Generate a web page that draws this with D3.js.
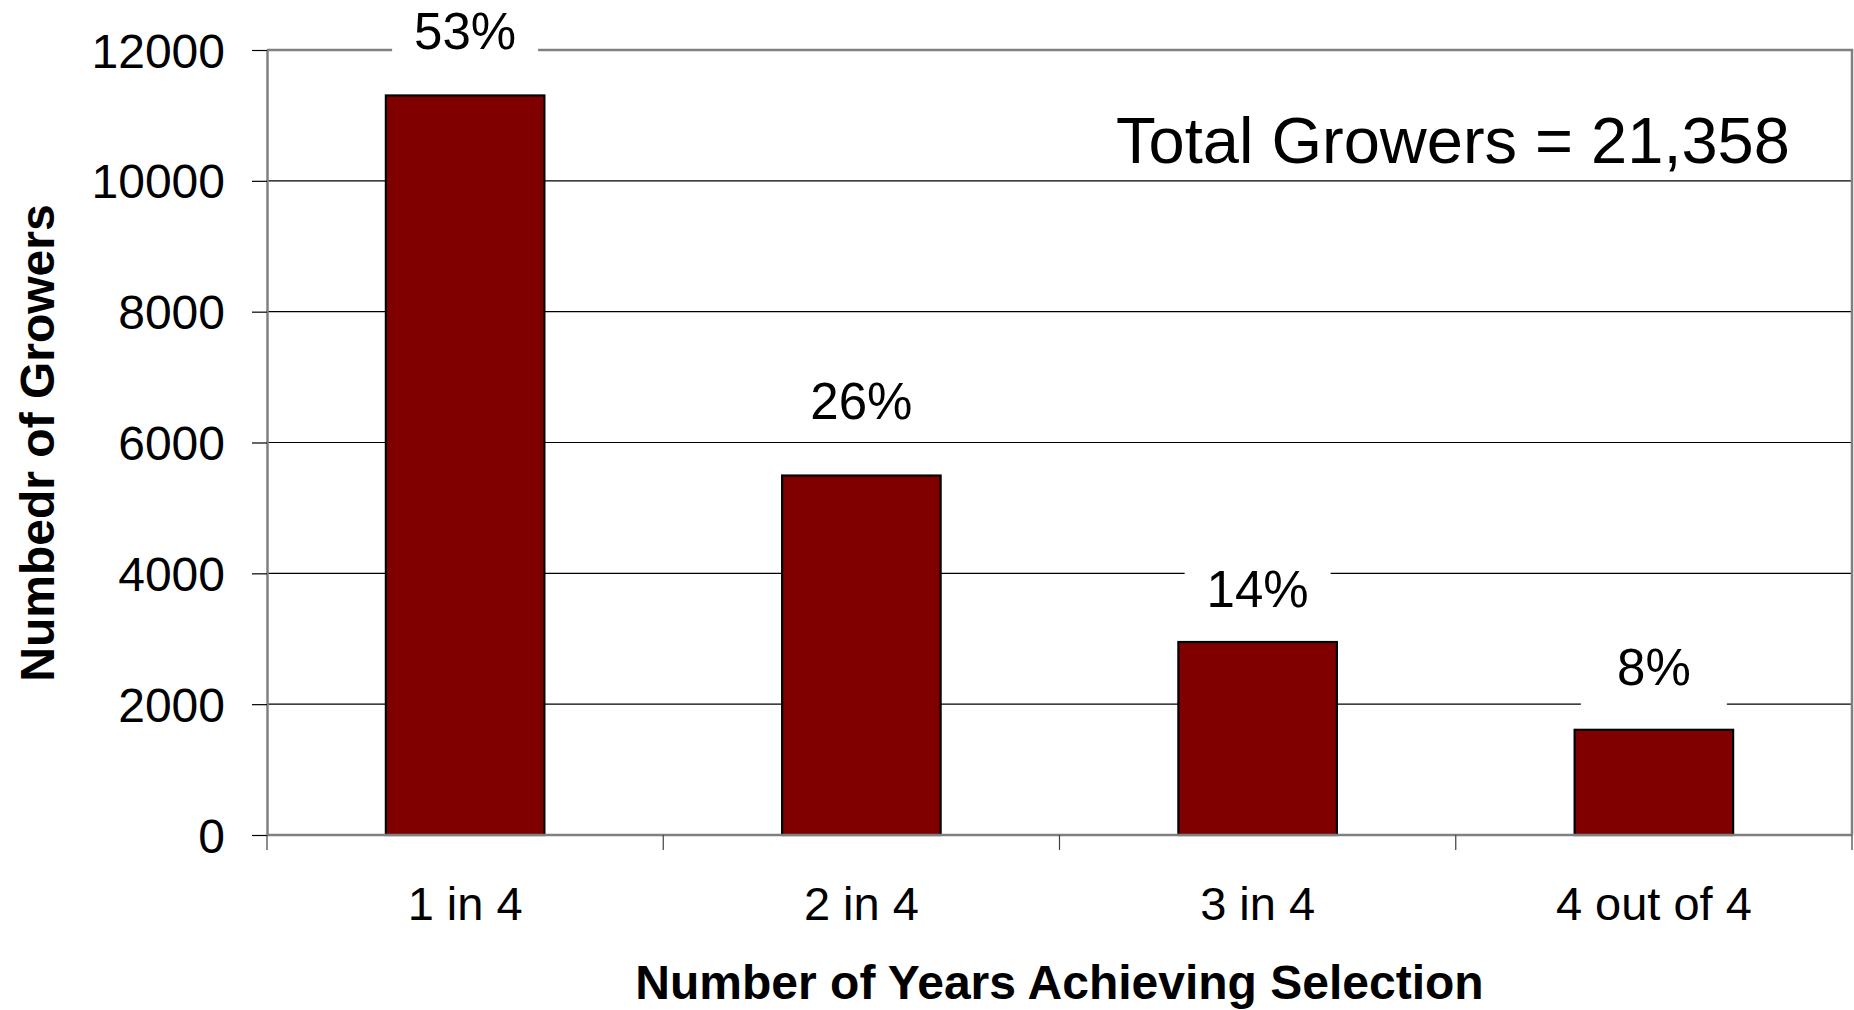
<!DOCTYPE html>
<html>
<head>
<meta charset="utf-8">
<title>Number of Years Achieving Selection</title>
<script src="https://cdn.jsdelivr.net/npm/d3@7"></script>
<style>
  html, body { margin: 0; padding: 0; background: #ffffff; }
  svg { display: block; font-family: "Liberation Sans", Arial, Helvetica, sans-serif; }
</style>
</head>
<body>
<svg id="chart" width="1854" height="1010"></svg>
<script>
// Growers grouped by how many of the four years they achieved selection
const categories = ["1 in 4", "2 in 4", "3 in 4", "4 out of 4"];
const growers = [11305, 5495, 2950, 1608];
const totalGrowers = 21358;
const yTicks = [0, 2000, 4000, 6000, 8000, 10000, 12000];

const svg = d3.select("#chart");
const plot = { left: 267, top: 50, right: 1852, bottom: 835 };

const x = d3.scaleBand()
  .domain(categories)
  .range([plot.left, plot.right])
  .paddingInner(0)
  .paddingOuter(0);

const y = d3.scaleLinear()
  .domain([0, 12000])
  .range([plot.bottom, plot.top]);

const barFrac = 0.4;                      // bar width as share of the category slot
const barW = x.bandwidth() * barFrac;
const barX = c => x(c) + (x.bandwidth() - barW) / 2;

// horizontal gridlines (the 12000 line is the plot frame)
svg.append("g")
  .selectAll("line")
  .data(yTicks.filter(t => t > 0 && t < 12000))
  .join("line")
  .attr("x1", plot.left).attr("x2", plot.right)
  .attr("y1", d => y(d)).attr("y2", d => y(d))
  .attr("stroke", "#000").attr("stroke-width", 1.2);

// plot frame: top and right edges
svg.append("path")
  .attr("d", `M${plot.left},${y(12000)}H${plot.right}V${plot.bottom}`)
  .attr("fill", "none")
  .attr("stroke", "#808080")
  .attr("stroke-width", 2.5);

// bars
svg.append("g")
  .selectAll("rect")
  .data(growers)
  .join("rect")
  .attr("x", (d, i) => barX(categories[i]))
  .attr("y", d => y(d))
  .attr("width", barW)
  .attr("height", d => y(0) - y(d))
  .attr("fill", "#800000")
  .attr("stroke", "#000")
  .attr("stroke-width", 2.2);

// y axis
const yAxis = svg.append("g")
  .attr("transform", `translate(${plot.left},0)`)
  .call(d3.axisLeft(y).tickValues(yTicks).tickFormat(d3.format("d")).tickSize(15).tickSizeOuter(0).tickPadding(27));
yAxis.select(".domain").attr("stroke", "#808080").attr("stroke-width", 2.5);
yAxis.selectAll(".tick line").attr("stroke", "#000").attr("stroke-width", 1.2);
yAxis.selectAll(".tick text")
  .attr("fill", "#000")
  .attr("font-size", 48)
  .attr("font-family", "'Liberation Sans', Arial, sans-serif")
  .attr("dy", "0.355em");

// x axis: baseline, category-boundary ticks and category labels
svg.append("line")
  .attr("x1", plot.left).attr("x2", plot.right)
  .attr("y1", y(0)).attr("y2", y(0))
  .attr("stroke", "#808080").attr("stroke-width", 2.5);

const bounds = categories.map(c => x(c)).concat([x.range()[1]]);
svg.append("g")
  .selectAll("line")
  .data(bounds)
  .join("line")
  .attr("x1", d => d).attr("x2", d => d)
  .attr("y1", y(0)).attr("y2", y(0) + 15)
  .attr("stroke", "#404040").attr("stroke-width", 1.2);

svg.append("g")
  .selectAll("text")
  .data(categories)
  .join("text")
  .attr("x", d => x(d) + x.bandwidth() / 2)
  .attr("y", 920)
  .attr("text-anchor", "middle")
  .attr("font-size", 47)
  .attr("fill", "#000")
  .text(d => d);

// percentage labels with white backing boxes over the gridlines;
// each label sits a set distance above its bar top
const pct = d => Math.round(d / totalGrowers * 100) + "%";
const labelLift = [46, 57, 35, 45];
const labels = svg.append("g")
  .selectAll("g")
  .data(growers)
  .join("g")
  .attr("transform", (d, i) => `translate(${x(categories[i]) + x.bandwidth() / 2},${y(d) - labelLift[i]})`);

labels.append("rect")
  .attr("x", -73).attr("y", -42)
  .attr("width", 146).attr("height", 63)
  .attr("fill", "#fff");

labels.append("text")
  .attr("text-anchor", "middle")
  .attr("font-size", 51)
  .attr("fill", "#000")
  .text(d => pct(d));

// total annotation
svg.append("text")
  .attr("x", 1453)
  .attr("y", 163)
  .attr("text-anchor", "middle")
  .attr("font-size", 65)
  .attr("fill", "#000")
  .text("Total Growers = " + d3.format(",")(totalGrowers));

// axis titles
svg.append("text")
  .attr("transform", `translate(54,${(plot.top + plot.bottom) / 2 + 0.5}) rotate(-90)`)
  .attr("text-anchor", "middle")
  .attr("font-size", 48)
  .attr("font-weight", "bold")
  .attr("fill", "#000")
  .text("Numbedr of Growers");

svg.append("text")
  .attr("x", (plot.left + plot.right) / 2)
  .attr("y", 999)
  .attr("text-anchor", "middle")
  .attr("font-size", 48)
  .attr("font-weight", "bold")
  .attr("fill", "#000")
  .text("Number of Years Achieving Selection");
</script>
</body>
</html>
